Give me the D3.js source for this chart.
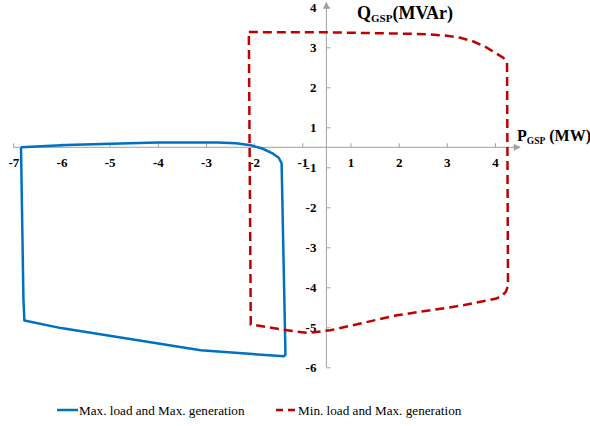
<!DOCTYPE html>
<html>
<head>
<meta charset="utf-8">
<script src="https://cdn.jsdelivr.net/npm/d3@7"></script>
<style>
  html, body { margin: 0; padding: 0; background: #fff; }
  svg { display: block; }
  text { font-family: 'Liberation Serif', 'Times New Roman', serif; }
</style>
</head>
<body>
<svg id="chart" width="590" height="426"></svg>
<script>
// ---- data ----
const xTickValues = [-6.5, -5.5, -4.5, -3.5, -2.5, -1.5, -0.5, 0.5, 1.5, 2.5, 3.5];
const xTickLabels = ["-7", "-6", "-5", "-4", "-3", "-2", "-1", "1", "2", "3", "4"];
const yTickValues = [3.5, 2.5, 1.5, 0.5, -0.5, -1.5, -2.5, -3.5, -4.5, -5.5];
const yTickLabels = ["4", "3", "2", "1", "-1", "-2", "-3", "-4", "-5", "-6"];

const seriesNames = ["Max. load and Max. generation", "Min. load and Max. generation"];

// Max. load and Max. generation (P, Q)
const maxLoadP = [-6.34, -5.40, -4.47, -3.50, -2.26, -1.88, -1.57, -1.33, -1.12, -0.99, -0.93, -0.85, -0.88, -2.61, -5.51, -6.27, -6.29, -6.34];
const maxLoadQ = [0.00, 0.06, 0.09, 0.12, 0.12, 0.10, 0.05, -0.03, -0.15, -0.26, -0.40, -5.18, -5.225, -5.075, -4.52, -4.33, -3.78, 0.00];

// Min. load and Max. generation (P, Q)
const minLoadP = [-1.61, 0.00, 1.67, 2.15, 2.50, 2.78, 3.04, 3.29, 3.52, 3.67, 3.75, 3.77, 3.73, 3.66, 3.53, 2.84, 1.46, 0.08, -0.40, -0.81, -1.57, -1.61];
const minLoadQ = [2.88, 2.875, 2.84, 2.82, 2.79, 2.74, 2.65, 2.52, 2.35, 2.24, 2.13, -3.45, -3.60, -3.70, -3.78, -3.95, -4.20, -4.575, -4.64, -4.575, -4.43, 2.88];

// ---- layout ----
const svg = d3.select("#chart");
const x = d3.scaleLinear().domain([-6.5, 3.5]).range([13.3, 495]);
const y = d3.scaleLinear().domain([-5.5, 3.5]).range([367.3, 7.3]);

const axisColor = "#a0a0a0";
const blue = "#0070C0";
const red = "#C00000";
const serif = "'Liberation Serif', 'Times New Roman', serif";

const defs = svg.append("defs");
defs.append("marker").attr("id", "arrow")
  .attr("viewBox", "0 0 10 10").attr("refX", 9).attr("refY", 5)
  .attr("markerWidth", 9).attr("markerHeight", 7)
  .attr("markerUnits", "userSpaceOnUse")
  .attr("orient", "auto")
  .append("path").attr("d", "M0,0 L10,5 L0,10 Z").attr("fill", axisColor);

// X axis
const xAxisG = svg.append("g").attr("transform", `translate(0,${y(0)})`)
  .call(d3.axisBottom(x).tickValues(xTickValues)
    .tickFormat((d, i) => xTickLabels[i]).tickSizeInner(-4).tickSizeOuter(0).tickPadding(10));
xAxisG.attr("font-family", null);
xAxisG.select(".domain").remove();
xAxisG.selectAll(".tick line").attr("stroke", axisColor);
xAxisG.selectAll(".tick text").style("font-family", serif).style("font-size", "13px")
  .style("font-weight", "bold").attr("fill", "#000");
svg.append("line").attr("x1", x(-6.5)).attr("x2", x(4.02))
  .attr("y1", y(0)).attr("y2", y(0)).attr("stroke", axisColor).attr("stroke-width", 1)
  .attr("marker-end", "url(#arrow)");

// Y axis
const yAxisG = svg.append("g").attr("transform", `translate(${x(0)},0)`)
  .call(d3.axisRight(y).tickValues(yTickValues)
    .tickFormat((d, i) => yTickLabels[i]).tickSizeInner(4).tickSizeOuter(0).tickPadding(0));
yAxisG.attr("font-family", null);
yAxisG.select(".domain").remove();
yAxisG.selectAll(".tick line").attr("stroke", axisColor);
yAxisG.selectAll(".tick text").style("font-family", serif).style("font-size", "13px")
  .style("font-weight", "bold").attr("fill", "#000")
  .attr("text-anchor", "end").attr("x", -10);
svg.append("line").attr("x1", x(0)).attr("x2", x(0))
  .attr("y1", y(-5.5)).attr("y2", y(3.62)).attr("stroke", axisColor).attr("stroke-width", 1)
  .attr("marker-end", "url(#arrow)");

// Axis titles
const qT = svg.append("text").attr("x", 357).attr("y", 19)
  .style("font-family", serif).attr("font-weight", "bold").attr("font-size", 18).attr("fill", "#000");
qT.append("tspan").text("Q");
qT.append("tspan").attr("font-size", 11).attr("dy", 3).text("GSP");
qT.append("tspan").attr("dy", -3).text("(MVAr)");

const pT = svg.append("text").attr("x", 517).attr("y", 141)
  .style("font-family", serif).attr("font-weight", "bold").attr("font-size", 16).attr("fill", "#000");
pT.append("tspan").text("P");
pT.append("tspan").attr("font-size", 9.5).attr("dy", 3).text("GSP");
pT.append("tspan").attr("dy", -3).text(" (MW)");

// Series
const line = d3.line().x(d => x(d[0])).y(d => y(d[1])).curve(d3.curveLinear);
const maxPts = maxLoadP.map((p, i) => [p, maxLoadQ[i]]);
const minPts = minLoadP.map((p, i) => [p, minLoadQ[i]]);

svg.append("path").datum(maxPts).attr("d", line)
  .attr("fill", "none").attr("stroke", blue).attr("stroke-width", 2.5)
  .attr("stroke-linejoin", "round");
svg.append("path").datum(minPts).attr("d", line)
  .attr("fill", "none").attr("stroke", red).attr("stroke-width", 2.5)
  .attr("stroke-dasharray", "9,5");

// Legend
const lg = svg.append("g");
lg.append("line").attr("x1", 57).attr("x2", 78).attr("y1", 410).attr("y2", 410)
  .attr("stroke", blue).attr("stroke-width", 2.5);
lg.append("text").attr("x", 79).attr("y", 414.5).style("font-family", serif)
  .attr("font-size", 13.2).attr("fill", "#000").text(seriesNames[0]);
lg.append("line").attr("x1", 276).attr("x2", 295).attr("y1", 410).attr("y2", 410)
  .attr("stroke", red).attr("stroke-width", 2.5).attr("stroke-dasharray", "7,5");
lg.append("text").attr("x", 298).attr("y", 414.5).style("font-family", serif)
  .attr("font-size", 13.2).attr("fill", "#000").text(seriesNames[1]);
</script>
</body>
</html>
